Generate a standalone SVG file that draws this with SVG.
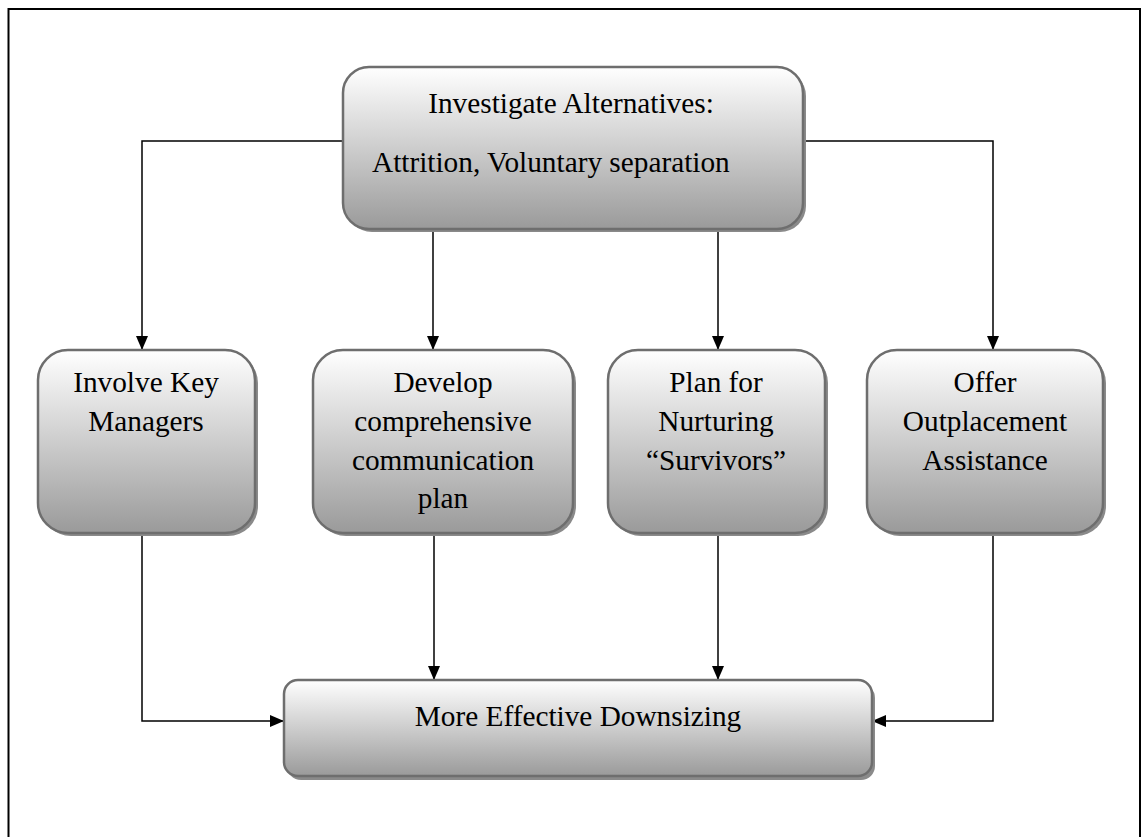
<svg xmlns="http://www.w3.org/2000/svg" width="1147" height="837" viewBox="0 0 1147 837">
<defs>
<linearGradient id="g" x1="0" y1="0" x2="0" y2="1">
<stop offset="0" stop-color="#ffffff"/>
<stop offset="0.5" stop-color="#cdcdcd"/>
<stop offset="1" stop-color="#9a9a9a"/>
</linearGradient>
<marker id="arr" viewBox="0 0 14 12" refX="14" refY="6" markerWidth="14" markerHeight="12" markerUnits="userSpaceOnUse" orient="auto">
<path d="M0,0 L14,6 L0,12 Z" fill="#000"/>
</marker>
</defs>
<style>
.box{fill:url(#g);stroke:#6e6e6e;stroke-width:2.5}
.sh{fill:#8a8a8a}
.t{font-family:"Liberation Serif","Times New Roman",serif;font-size:29.3px;fill:#000;text-anchor:middle}
.c{fill:none;stroke:#000;stroke-width:1.5}
</style>
<rect width="1147" height="837" fill="#fff"/>
<rect x="8.5" y="9" width="1131.5" height="840" fill="none" stroke="#000" stroke-width="2"/>
<g id="connectors">
<path class="c" d="M343,141 H142 V350" marker-end="url(#arr)"/>
<path class="c" d="M803,141 H993 V350" marker-end="url(#arr)"/>
<path class="c" d="M433,229 V350" marker-end="url(#arr)"/>
<path class="c" d="M718,229 V350" marker-end="url(#arr)"/>
<path class="c" d="M142,533 V721 H284" marker-end="url(#arr)"/>
<path class="c" d="M434,533 V680" marker-end="url(#arr)"/>
<path class="c" d="M718,533 V680" marker-end="url(#arr)"/>
<path class="c" d="M993,533 V721 H872" marker-end="url(#arr)"/>
</g>
<g id="top">
<rect class="sh" x="346" y="70" width="460" height="162" rx="26"/>
<rect class="box" x="343" y="67" width="460" height="162" rx="26"/>
<text class="t" x="571" y="113">Investigate Alternatives:</text>
<text class="t" x="372" y="172" style="text-anchor:start">Attrition, Voluntary separation</text>
</g>
<g id="n1">
<rect class="sh" x="41" y="353" width="217" height="183" rx="30"/>
<rect class="box" x="38" y="350" width="217" height="183" rx="30"/>
<text class="t" x="146" y="392">Involve Key</text>
<text class="t" x="146" y="431">Managers</text>
</g>
<g id="n2">
<rect class="sh" x="316" y="353" width="260" height="183" rx="30"/>
<rect class="box" x="313" y="350" width="260" height="183" rx="30"/>
<text class="t" x="443" y="392">Develop</text>
<text class="t" x="443" y="431">comprehensive</text>
<text class="t" x="443" y="470">communication</text>
<text class="t" x="443" y="508">plan</text>
</g>
<g id="n3">
<rect class="sh" x="611" y="353" width="217" height="183" rx="30"/>
<rect class="box" x="608" y="350" width="217" height="183" rx="30"/>
<text class="t" x="716" y="392">Plan for</text>
<text class="t" x="716" y="431">Nurturing</text>
<text class="t" x="716" y="470">“Survivors”</text>
</g>
<g id="n4">
<rect class="sh" x="870" y="353" width="236" height="183" rx="30"/>
<rect class="box" x="867" y="350" width="236" height="183" rx="30"/>
<text class="t" x="985" y="392">Offer</text>
<text class="t" x="985" y="431">Outplacement</text>
<text class="t" x="985" y="470">Assistance</text>
</g>
<g id="bottom">
<rect class="sh" x="287" y="684" width="588" height="96" rx="14"/>
<rect class="box" x="284" y="680" width="588" height="96" rx="14"/>
<text class="t" x="578" y="726">More Effective Downsizing</text>
</g>
</svg>
